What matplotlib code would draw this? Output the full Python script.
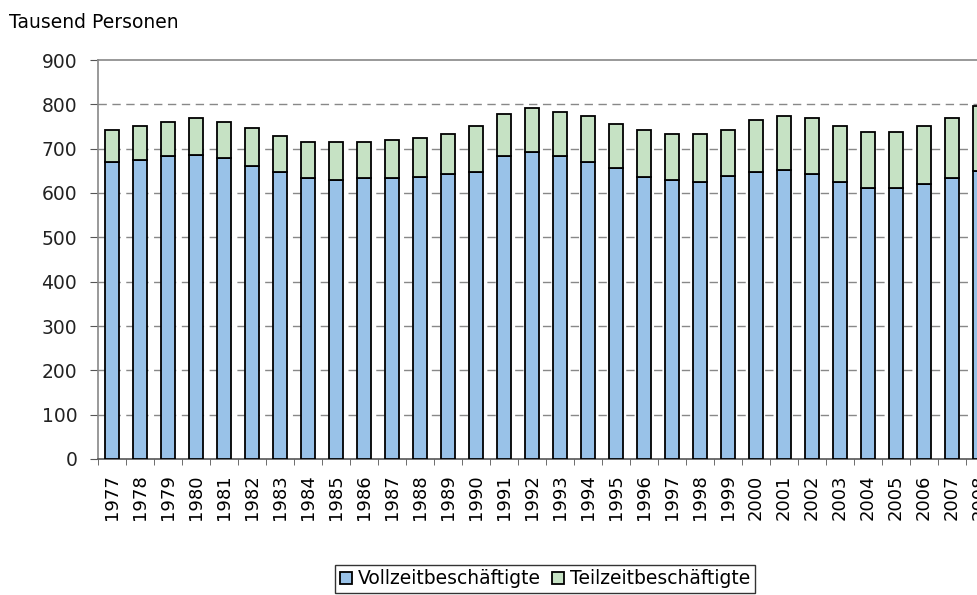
import matplotlib
matplotlib.use("Agg")
import matplotlib.pyplot as plt
import numpy as np

years = [str(y) for y in range(1977, 2009)]
vollzeit = [670, 674, 683, 686, 678, 660, 647, 633, 629, 633, 633, 637, 643, 647,
            683, 692, 683, 670, 656, 637, 629, 624, 638, 647, 652, 642, 624, 612,
            612, 620, 633, 650]
gesamt = [742, 752, 760, 769, 760, 746, 728, 715, 715, 715, 720, 723, 733, 752,
          778, 791, 783, 774, 756, 742, 734, 733, 741, 764, 774, 769, 751, 738,
          738, 751, 769, 796]
teilzeit = [g - v for g, v in zip(gesamt, vollzeit)]
yticks = [0, 100, 200, 300, 400, 500, 600, 700, 800, 900]

plt.rcParams['font.family'] = ['DejaVu Sans']

fig = plt.figure(figsize=(9.78, 5.95), dpi=100)
W, H = 978, 595
ax = fig.add_axes([98 / W, (H - 459) / H, 896 / W, 399 / H])

x = np.arange(len(years))
blue = '#99C2E8'
green = '#C6E2C4'
ax.bar(x, vollzeit, width=0.47, color=blue, edgecolor='black', linewidth=1.3,
       label='Vollzeitbeschäftigte', zorder=3)
ax.bar(x, teilzeit, bottom=vollzeit, width=0.47, color=green, edgecolor='black',
       linewidth=1.3, label='Teilzeitbeschäftigte', zorder=3)

ax.set_xlim(-0.5, len(years) - 0.5)
ax.set_ylim(0, 900)
ax.set_yticks(yticks)
ax.set_yticklabels([str(v) for v in yticks], fontsize=13.5, color='#222222')
for v in yticks[1:-1]:
    ax.axhline(v, color='#888888', lw=1, ls=(0, (6, 4)), zorder=1)

ax.set_xticks(x)
ax.set_xticklabels(years, rotation=90, fontsize=13)
ax.tick_params(axis='x', length=0, pad=11)
ax.set_xticks(np.arange(len(years) + 1) - 0.5, minor=True)
ax.tick_params(axis='x', which='minor', length=4.5, color='#555555')
ax.tick_params(axis='y', length=6, color='#555555', pad=9)

for s in ['left', 'top', 'right']:
    ax.spines[s].set_color('#888888')
    ax.spines[s].set_linewidth(1.2)
ax.spines['bottom'].set_color('#555555')
ax.spines['bottom'].set_linewidth(1.2)

fig.text(9 / W, 1 - 22 / H, 'Tausend Personen', fontsize=13.5, va='center', ha='left')

leg = fig.legend(loc='center', bbox_to_anchor=(545 / W, 1 - 579 / H), ncol=2,
                 fontsize=13.5, frameon=True, fancybox=False, edgecolor='black',
                 handlelength=0.65, handleheight=0.65, handletextpad=0.3,
                 columnspacing=0.6, borderpad=0.25, borderaxespad=0)
leg.get_frame().set_linewidth(1.0)

fig.savefig('out.png', dpi=100)
